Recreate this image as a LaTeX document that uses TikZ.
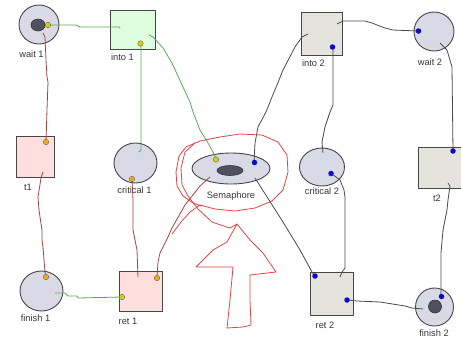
\documentclass[tikz,border=0pt]{standalone}
\usepackage{fontspec}
\setmainfont{Liberation Sans}
\usetikzlibrary{shapes.geometric}
\definecolor{placefill}{RGB}{218,218,230}
\definecolor{tokfill}{RGB}{80,80,96}
\definecolor{greenfill}{RGB}{222,252,222}
\definecolor{pinkfill}{RGB}{255,222,222}
\definecolor{greyfill}{RGB}{228,228,220}
\definecolor{bordercol}{RGB}{70,70,70}
\definecolor{greenline}{RGB}{90,170,90}
\definecolor{brownline}{RGB}{160,70,70}
\definecolor{grayline}{RGB}{75,75,75}
\definecolor{scribble}{RGB}{222,70,70}
\definecolor{yellowdot}{RGB}{215,205,20}
\definecolor{orangedot}{RGB}{240,170,20}
\definecolor{bluedot}{RGB}{10,10,200}
\definecolor{labelcol}{RGB}{55,55,55}
\tikzset{
  place/.style={ellipse, draw=bordercol, line width=0.9pt, fill=placefill, inner sep=0pt},
  token/.style={ellipse, draw=black!80, line width=0.6pt, fill=tokfill, inner sep=0pt},
  trans/.style={rectangle, draw=bordercol, line width=0.9pt, inner sep=0pt},
  lbl/.style={text=labelcol, font=\fontsize{9.3}{11}\selectfont, inner sep=0pt},
  ydot/.style={circle, draw=black!60, line width=0.4pt, fill=yellowdot, minimum size=5.5pt, inner sep=0pt},
  odot/.style={circle, draw=black!60, line width=0.4pt, fill=orangedot, minimum size=5.5pt, inner sep=0pt},
  bdot/.style={circle, fill=bluedot, minimum size=5.5pt, inner sep=0pt},
  gline/.style={draw=greenline, line width=0.8pt, line join=round},
  bline/.style={draw=brownline, line width=0.8pt, line join=round},
  kline/.style={draw=grayline, line width=0.8pt, line join=round},
  rline/.style={draw=scribble, line width=0.8pt, line join=round},
}
\begin{document}
\begin{tikzpicture}[x=1pt,y=-1pt]
\useasboundingbox[fill=white] (0,0) rectangle (461,341);

% ---------- places ----------
\node[place, minimum width=40pt, minimum height=39pt] (wait1) at (39,24.5) {};
\node[token, minimum width=14pt, minimum height=12pt] (tok1) at (38,25) {};
\node[place, minimum width=43pt, minimum height=40pt] (crit1) at (135.5,163) {};
\node[place, minimum width=78pt, minimum height=31pt] (sem) at (231,168.5) {};
\node[token, minimum width=26pt, minimum height=10pt] (semtok) at (230,170.5) {};
\node[place, minimum width=43pt, minimum height=40pt] (fin1) at (41.5,291) {};
\node[place, minimum width=40pt, minimum height=39pt] (wait2) at (434,31.5) {};
\node[place, minimum width=45pt, minimum height=38pt] (crit2) at (322,167) {};
\node[place, minimum width=38pt, minimum height=38pt] (fin2) at (434.5,307) {};
\node[token, minimum width=13pt, minimum height=13pt] (tok2) at (435,306.5) {};

% ---------- transitions ----------
\node[trans, fill=greenfill, minimum width=45pt, minimum height=38.5pt] (into1) at (132.5,30) {};
\node[trans, fill=pinkfill, minimum width=38pt, minimum height=41pt] (t1) at (35,156.5) {};
\node[trans, fill=pinkfill, minimum width=43pt, minimum height=40pt] (ret1) at (140.5,291) {};
\node[trans, fill=greyfill, minimum width=41pt, minimum height=43pt] (into2) at (321.5,33.5) {};
\node[trans, fill=greyfill, minimum width=46pt, minimum height=41pt] (t2) at (441,167.5) {};
\node[trans, fill=greyfill, minimum width=43pt, minimum height=43pt] (ret2) at (331.5,293.5) {};

% ---------- labels ----------
\node[lbl] (lwait1) at (31.5,54.5) {wait 1};
\node[lbl] (linto1) at (122.5,57.5) {into 1};
\node[lbl] (linto2) at (313.5,63.5) {into 2};
\node[lbl] (lwait2) at (430,62.5) {wait 2};
\node[lbl] (lt1) at (28,187.5) {t1};
\node[lbl] (lcrit1) at (134.5,190.5) {critical 1};
\node[lbl] (lsem) at (231,196.5) {Semaphore};
\node[lbl] (lcrit2) at (322,191) {critical 2};
\node[lbl] (lt2) at (437,198.5) {t2};
\node[lbl] (lfin1) at (35.5,318.5) {finish 1};
\node[lbl] (lret1) at (128,321.5) {ret 1};
\node[lbl] (lret2) at (325,325.5) {ret 2};
\node[lbl] (lfin2) at (434,333.5) {finish 2};

% ---------- end coordinates ----------
\coordinate (e1) at (120,28);
\coordinate (e2) at (139,152);
\coordinate (s3) at (149,35);
\coordinate (s4) at (43,33);
\coordinate (s5) at (43,172);
\coordinate (s7) at (210,177);
\coordinate (s8) at (55,293);
\coordinate (s9) at (337,24);
\coordinate (s10) at (308,34);
\coordinate (e11) at (323,153);
\coordinate (e12) at (340,277);
\coordinate (s13) at (440,43);
\coordinate (s14) at (448,183);
\coordinate (s15) at (255,178);
\coordinate (e16) at (423,309);
\coordinate (e7) at (138,277);

% ---------- connectors (hand drawn) ----------
\draw[gline] (48,25) -- (76,25) -- (80,27) -- (119,27) -- (e1);
\draw[gline] (141,44) -- (141,150) -- (e2);
\draw[gline] (s3) -- (153,37) -- (163,48) -- (172,63) -- (183,87) -- (190,102) -- (193,112) -- (200,130) -- (208,143) -- (213,152) -- (216,159);
\draw[bline] (s4) -- (45,37) -- (46,60) -- (47,77) -- (48,82) -- (47,110) -- (46,142);
\draw[bline] (s5) -- (41,178) -- (38,197) -- (39,210) -- (40,217) -- (42,230) -- (42,240) -- (43,247) -- (45,272) -- (46,277);
\draw[bline] (132,180) -- (133,200) -- (133,230) -- (135,240) -- (137,250) -- (e7);
\draw[bline] (s7) -- (200,186) -- (185,205) -- (172,228) -- (168,237) -- (160,253) -- (158,262) -- (157,278);
\draw[gline] (s8) -- (65,293) -- (68,296) -- (77,296) -- (78,298) -- (122,297);
\draw[kline] (s9) -- (343,21) -- (365,21) -- (372,23) -- (377,25) -- (385,28) -- (393,30) -- (418,31);
\draw[kline] (s10) -- (302,37) -- (295,47) -- (283,70) -- (277,85) -- (272,97) -- (266,112) -- (258,127) -- (255,143) -- (254,162);
\draw[kline] (333,48) -- (333,80) -- (333,105) -- (330,112) -- (325,127) -- (322,142) -- (e11);
\draw[kline] (332,174) -- (340,180) -- (344,190) -- (345,197) -- (345,268) -- (342,272) -- (e12);
\draw[kline] (s13) -- (447,50) -- (452,67) -- (453,151);
\draw[kline] (s14) -- (450,186) -- (448,200) -- (447,210) -- (443,230) -- (441,253) -- (441,296);
\draw[kline] (s15) -- (283,222) -- (300,250) -- (312,272) -- (315,276);
\draw[kline] (348,300) -- (357,301) -- (380,302) -- (405,306) -- (412,308) -- (e16);

% ---------- dots ----------
\node[ydot] (d1) at (48,25) {};
\node[ydot] (d2) at (140.5,43.5) {};
\node[ydot] (d3) at (216,159.5) {};
\node[ydot] (d4) at (122,297) {};
\node[odot] (d5) at (46,142) {};
\node[odot] (d6) at (132,179) {};
\node[odot] (d7) at (46,277) {};
\node[odot] (d8) at (157,278) {};
\node[bdot] (d9) at (332.5,47) {};
\node[bdot] (d10) at (418.5,31) {};
\node[bdot] (d11) at (254.5,162.5) {};
\node[bdot] (d12) at (331,173.5) {};
\node[bdot] (d13) at (453,151) {};
\node[bdot] (d14) at (315,276) {};
\node[bdot] (d15) at (347,300) {};
\node[bdot] (d16) at (441.5,296.5) {};

% ---------- red scribble ----------
\coordinate (tip) at (237,224);
\draw[rline] (172,234) -- (181,222) -- (190,212) -- (200,205) -- (215,209) -- (235,211) -- (255,208) -- (272,201) -- (283,190) -- (288,172) -- (287,155) -- (278,142) -- (262,135) -- (240,134) -- (220,137) -- (200,141) -- (186,147) -- (179,156) -- (176,172) -- (177,186) -- (183,196) -- (193,203) -- (202,206);
\draw[rline] (195,143) -- (185,152) -- (181,168) -- (182,185) -- (188,196) -- (198,209) -- (212,222) -- (230,228) -- (tip)
  -- (227,242) -- (213,250) -- (196,267) -- (233,267) -- (230,300) -- (227,328) -- (243,327) -- (251,325) -- (250,300) -- (250,275) -- (276,272) -- (263,253) -- (250,240) -- (tip);
\end{tikzpicture}
\end{document}
